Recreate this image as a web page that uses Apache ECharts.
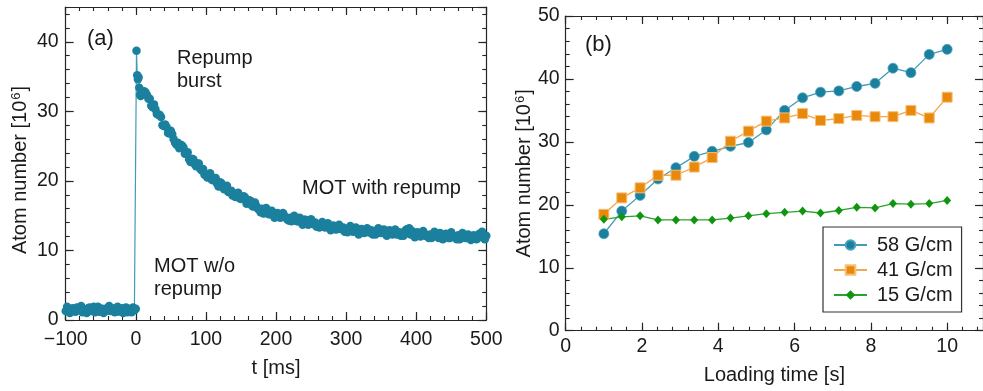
<!DOCTYPE html>
<html>
<head>
<meta charset="utf-8">
<script src="https://cdn.jsdelivr.net/npm/echarts@6/dist/echarts.min.js"></script>
<style>
html,body{margin:0;padding:0;background:#fff;}
#c{width:983px;height:391px;}
</style>
</head>
<body>
<div id="c"></div>
<script>
// ---------- Panel (a): atom number vs time (two interleaved sample sets) ----------
const tA = [-100,-96,-92,-88,-84,-80,-76,-72,-68,-64,-60,-56,-52,-48,-44,-40,-36,-32,-28,-24,-20,-16,-12,-8,-4,-2,0,
  1,2,3,4,5,6,7,8,10,12,14,16,18,
  20,24,28,32,36,40,44,48,52,56,60,64,68,72,76,80,84,88,92,96,100,104,108,112,116,120,124,128,132,136,140,144,148,152,156,160,
  164,168,172,176,180,184,188,192,196,200,204,208,212,216,220,224,228,232,236,240,244,248,252,256,260,264,268,272,276,280,
  284,288,292,296,300,304,308,312,316,320,324,328,332,336,340,344,348,352,356,360,364,368,372,376,380,384,388,392,396,400,
  404,408,412,416,420,424,428,432,436,440,444,448,452,456,460,464,468,472,476,480,484,488,492,496,500];
const nA = [1.3,1.6,1.2,1.5,1.8,1.4,1.1,1.5,1.7,1.3,1.9,1.4,1.2,1.6,1.5,1.8,1.3,1.6,1.2,1.5,1.7,1.4,1.1,1.5,1.8,1.4,1.6,
  38.7,35.2,34.6,34.9,33.4,32.4,32.2,32.6,32.5,32.9,32.7,32.3,31.8,
  31.8,30.6,30.3,29.5,29.2,27.9,27.7,26.8,26.7,25.5,25.5,25.2,24.8,24.0,23.1,23.2,22.4,22.5,21.7,21.7,20.8,20.9,20.2,20.2,19.6,19.8,19.1,19.1,18.4,18.6,18.1,18.2,17.5,17.6,17.6,16.9,
  17.1,16.3,16.4,15.9,16.0,15.4,15.6,15.2,15.4,14.9,15.1,14.8,15.0,14.5,14.7,14.3,14.6,14.2,14.3,14.4,13.8,14.1,13.8,14.0,13.5,13.7,13.5,13.8,13.3,13.4,
  13.1,13.3,13.1,13.3,12.9,13.1,12.8,13.0,12.7,13.0,12.6,12.9,12.6,12.9,12.5,12.8,12.6,12.8,12.4,12.7,12.5,12.7,12.3,12.6,12.4,12.8,13.0,12.3,12.6,12.2,
  12.4,12.1,12.4,12.0,12.3,12.1,12.3,11.8,12.2,12.0,12.3,11.8,12.1,11.9,12.2,11.8,12.1,11.8,12.1,11.7,12.0,11.8,12.4,11.8,12.1];
const tA2 = [-98,-94,-90,-86,-82,-78,-74,-70,-66,-62,-58,-54,-50,-46,-42,-38,-34,-30,-26,-22,-18,-14,-10,-6,
  22,26,30,34,38,42,46,50,54,58,62,66,70,74,78,82,86,90,94,98,102,106,110,114,118,122,126,130,134,138,142,146,150,154,158,
  162,166,170,174,178,182,186,190,194,198,202,206,210,214,218,222,226,230,234,238,242,246,250,254,258,262,266,270,274,278,
  282,286,290,294,298,302,306,310,314,318,322,326,330,334,338,342,346,350,354,358,362,366,370,374,378,382,386,390,394,398,
  402,406,410,414,418,422,426,430,434,438,442,446,450,454,458,462,466,470,474,478,482,486,490,494,498];
const nA2 = [1.9,1.0,1.7,1.2,1.6,2.0,1.3,1.0,1.8,1.5,1.1,1.9,1.6,1.0,1.3,2.0,1.7,1.1,1.9,1.2,1.0,1.8,1.6,1.1,
  30.8,31.0,29.6,29.5,28.0,28.1,26.9,27.2,26.0,25.2,24.7,25.1,23.9,24.1,22.7,23.1,22.1,22.5,21.5,20.9,20.5,21.1,20.1,20.4,19.2,19.7,18.8,19.3,18.5,17.9,17.7,18.3,17.4,17.8,16.7,
  17.2,16.4,16.9,16.0,15.5,15.3,16.1,15.2,15.7,14.7,15.4,14.7,15.4,14.7,14.3,14.2,15.0,14.2,14.7,13.7,14.4,13.7,14.5,13.8,13.4,13.3,14.1,13.3,13.9,12.9,
  13.6,13.0,13.7,13.1,12.7,12.6,13.5,12.7,13.3,12.3,13.1,12.5,13.2,12.6,12.3,12.3,13.2,12.5,13.0,12.1,12.9,12.3,13.0,12.4,12.1,12.1,13.0,13.2,12.8,11.9,
  12.6,12.0,12.8,12.1,11.8,11.8,12.7,12.0,12.5,11.6,12.4,11.8,12.6,11.9,11.6,11.6,12.5,11.8,12.3,11.5,12.2,11.6,12.4,12.7,11.6];

// ---------- Panel (b): atom number vs loading time ----------
const tB  = [1.00,1.47,1.95,2.42,2.89,3.37,3.84,4.32,4.79,5.26,5.74,6.21,6.68,7.16,7.63,8.11,8.58,9.05,9.53,10.00];
const n58 = [15.4,19.0,21.5,24.1,25.9,27.7,28.5,29.3,29.9,31.9,35.0,37.0,37.9,38.1,38.8,39.3,41.7,41.0,43.9,44.7];
const n41 = [18.5,21.1,22.7,24.7,24.7,26.0,27.5,30.1,31.7,33.3,33.8,34.5,33.4,33.7,34.2,34.0,34.0,35.0,33.8,37.1];
const n15 = [17.7,18.1,18.25,17.6,17.6,17.6,17.6,17.9,18.25,18.6,18.8,19.0,18.7,19.1,19.6,19.5,20.2,20.1,20.2,20.7];
const legendNames = ['58 G/cm','41 G/cm','15 G/cm'];

const FONT = 'Liberation Sans, Arial, sans-serif';
const INK = '#1a1a1a';
const AX = '#262626';
const TEAL = '#1b809e', TEAL_L = '#3f9bb6';
const ORANGE = '#e8890c', ORANGE_L = '#f0a84a';
const GREEN = '#109510', GREEN_L = '#2aa32a';

function pairs(xs, ys){ return xs.map((x,i)=>[x, ys[i]]); }
const seriesA = pairs(tA,nA).concat(pairs(tA2,nA2)).sort((a,b)=>a[0]-b[0]);
const minusFmt = v => String(v).replace('-', '\u2212');

function mainAxis(grid, pos, min, max, interval, extra){
  const isBottomOrLeft = (pos === 'bottom' || pos === 'left');
  return Object.assign({
    type:'value', gridIndex:grid, position:pos, min:min, max:max, interval:interval,
    axisLine:{show:true, onZero:false, lineStyle:{color:AX, width:1.2}},
    axisTick:{show:true, inside:true, length:8, lineStyle:{color:AX, width:1.2}},
    minorTick:{show:false},
    splitLine:{show:false},
    axisLabel:{show:isBottomOrLeft, color:INK, fontFamily:FONT, fontSize:19.5, showMaxLabel:false, formatter:minusFmt}
  }, extra || {});
}
function minorAxis(grid, pos, min, max, interval){
  return {
    type:'value', gridIndex:grid, position:pos, min:min, max:max, interval:interval,
    axisLine:{show:false, onZero:false},
    axisTick:{show:true, inside:true, length:4, lineStyle:{color:AX, width:1.1}},
    splitLine:{show:false},
    axisLabel:{show:false}
  };
}

const yName = 'Atom number [10{sup|6}]';
const yNameStyle = (pad) => ({
  color:INK, fontFamily:FONT, fontSize:20, padding:pad,
  rich:{ sup:{fontFamily:FONT, fontSize:13, color:INK, verticalAlign:'top', padding:[0,1,8,1]} }
});

const AX_A = {min:-100, max:500}, AY_A = {min:0, max:45};
const BX = {min:0, max:10.94}, BY = {min:0, max:50};

const option = {
  animation:false,
  backgroundColor:'#fff',
  textStyle:{fontFamily:FONT},
  grid:[
    {left:65.7, top:7, width:420.6, height:313},
    {left:565.7, top:16, width:418, height:314.7}
  ],
  xAxis:[
    mainAxis(0,'bottom',AX_A.min,AX_A.max,100,{name:'t [ms]', nameLocation:'middle', nameGap:38,
      nameTextStyle:{color:INK, fontFamily:FONT, fontSize:20},
      axisLabel:{show:true,color:INK,fontFamily:FONT,fontSize:19.5,margin:10,formatter:minusFmt}}),
    mainAxis(0,'top',AX_A.min,AX_A.max,100),
    minorAxis(0,'bottom',AX_A.min,AX_A.max,20),
    minorAxis(0,'top',AX_A.min,AX_A.max,20),
    mainAxis(1,'bottom',BX.min,BX.max,2,{name:'Loading time [s]', nameLocation:'middle', nameGap:35,
      nameTextStyle:{color:INK, fontFamily:FONT, fontSize:20},
      axisLabel:{show:true,color:INK,fontFamily:FONT,fontSize:19.5,margin:6,showMaxLabel:false}}),
    mainAxis(1,'top',BX.min,BX.max,2),
    minorAxis(1,'bottom',BX.min,BX.max,0.4),
    minorAxis(1,'top',BX.min,BX.max,0.4)
  ],
  yAxis:[
    mainAxis(0,'left',AY_A.min,AY_A.max,10,{name:yName, nameLocation:'middle', nameGap:35,
      nameTextStyle:yNameStyle([0,13,0,0]),
      axisLabel:{show:true,color:INK,fontFamily:FONT,fontSize:19.5,margin:7,showMaxLabel:false}}),
    mainAxis(0,'right',AY_A.min,AY_A.max,10),
    minorAxis(0,'left',AY_A.min,AY_A.max,2),
    minorAxis(0,'right',AY_A.min,AY_A.max,2),
    mainAxis(1,'left',BY.min,BY.max,10,{name:yName, nameLocation:'middle', nameGap:29,
      nameTextStyle:yNameStyle([0,0,0,0]),
      axisLabel:{show:true,color:INK,fontFamily:FONT,fontSize:19.5,margin:6}}),
    mainAxis(1,'right',BY.min,BY.max,10),
    minorAxis(1,'left',BY.min,BY.max,2),
    minorAxis(1,'right',BY.min,BY.max,2)
  ],
  legend:{
    orient:'vertical', left:823, top:227,
    padding:[8,9,7,10], itemGap:5, itemWidth:33, itemHeight:12,
    borderColor:'#333', borderWidth:1.2, backgroundColor:'#fff',
    textStyle:{color:INK, fontFamily:FONT, fontSize:20, padding:[0,0,0,5]},
    data:legendNames
  },
  series:[
    {
      type:'line', xAxisIndex:0, yAxisIndex:0, data:seriesA,
      symbol:'circle', symbolSize:8.5, showAllSymbol:true,
      itemStyle:{color:TEAL}, lineStyle:{color:TEAL_L, width:1.2}
    },
    {
      name:legendNames[0], type:'line', xAxisIndex:4, yAxisIndex:4, data:pairs(tB,n58),
      symbol:'circle', symbolSize:10, showAllSymbol:true,
      itemStyle:{color:TEAL, borderColor:'#4aa3bd', borderWidth:0.8}, lineStyle:{color:TEAL_L, width:1.3}
    },
    {
      name:legendNames[1], type:'line', xAxisIndex:4, yAxisIndex:4, data:pairs(tB,n41),
      symbol:'rect', symbolSize:10, showAllSymbol:true,
      itemStyle:{color:ORANGE, borderColor:'#f6c07a', borderWidth:1}, lineStyle:{color:ORANGE_L, width:1.3}
    },
    {
      name:legendNames[2], type:'line', xAxisIndex:4, yAxisIndex:4, data:pairs(tB,n15),
      symbol:'diamond', symbolSize:[8,9], showAllSymbol:true,
      itemStyle:{color:GREEN}, lineStyle:{color:GREEN_L, width:1.3}
    }
  ],
  graphic:[
    {type:'text', x:87, y:39, style:{text:'(a)', fontFamily:FONT, fontSize:22, fill:INK, verticalAlign:'middle'}},
    {type:'text', x:585, y:45, style:{text:'(b)', fontFamily:FONT, fontSize:22, fill:INK, verticalAlign:'middle'}},
    {type:'text', x:177, y:58, style:{text:'Repump', fontFamily:FONT, fontSize:20, fill:INK, verticalAlign:'middle'}},
    {type:'text', x:177, y:81, style:{text:'burst', fontFamily:FONT, fontSize:20, fill:INK, verticalAlign:'middle'}},
    {type:'text', x:302, y:188, style:{text:'MOT with repump', fontFamily:FONT, fontSize:20, fill:INK, verticalAlign:'middle'}},
    {type:'text', x:154, y:266, style:{text:'MOT w/o', fontFamily:FONT, fontSize:20, fill:INK, verticalAlign:'middle'}},
    {type:'text', x:154, y:289, style:{text:'repump', fontFamily:FONT, fontSize:20, fill:INK, verticalAlign:'middle'}}
  ]
};

const chart = echarts.init(document.getElementById('c'), null, {renderer:'canvas'});
chart.setOption(option);
</script>
</body>
</html>
